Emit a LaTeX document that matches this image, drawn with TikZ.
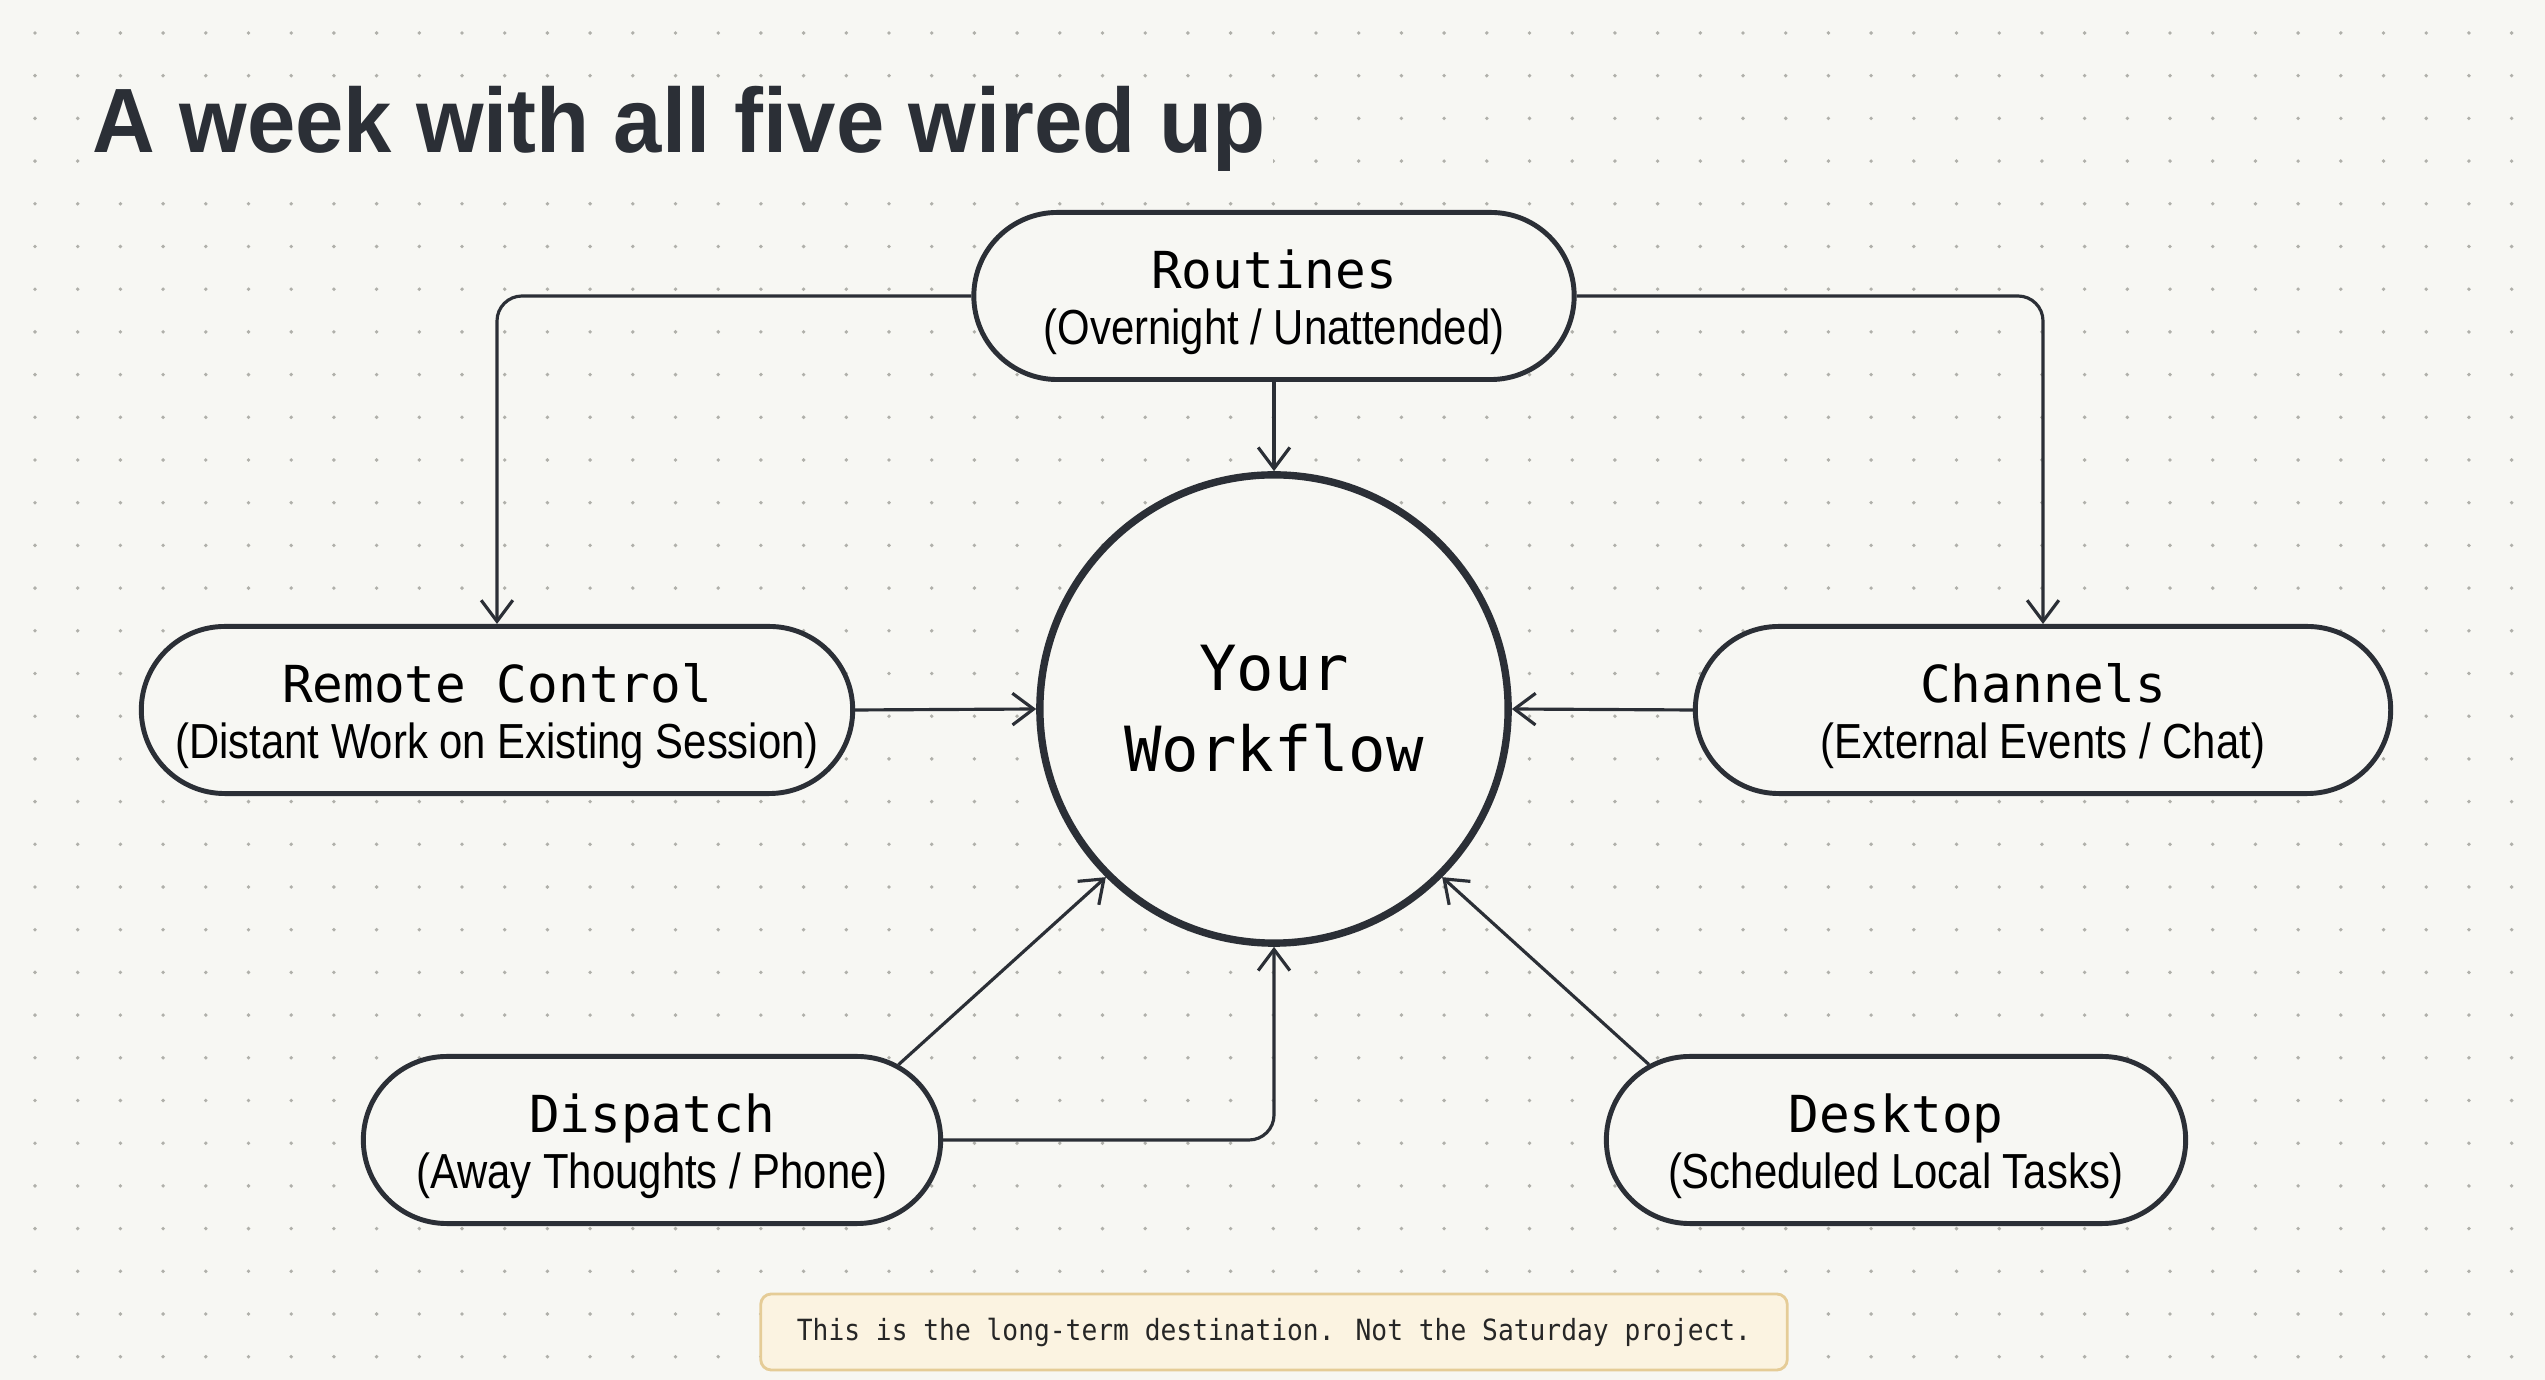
\documentclass[tikz,border=0pt]{standalone}
\usepackage{fontspec}
\setmainfont{Liberation Sans}
\newfontfamily\headfont{DejaVu Sans Mono}
\newfontfamily\subfont[FakeStretch=0.85]{Liberation Sans}
\newfontfamily\titlefont[FakeStretch=0.95]{Liberation Sans}
\newfontfamily\notefont[FakeStretch=0.9]{DejaVu Sans Mono}
\usetikzlibrary{shapes.misc,arrows.meta,positioning}

\definecolor{paper}{HTML}{F7F7F3}
\definecolor{ink}{HTML}{2B2F36}
\definecolor{dotgrey}{HTML}{B0B0AA}
\definecolor{notefill}{HTML}{FBF3E1}
\definecolor{noteedge}{HTML}{E5CC97}

\newcommand{\pillbody}[2]{{\headfont\rule{0pt}{14.5pt}#1}\\{\subfont\fontsize{14}{16}\selectfont #2}}

\tikzset{
  pill/.style={rounded rectangle,draw=ink,line width=1.4pt,fill=paper,text=black,
    align=center,minimum height=1.67cm,inner xsep=0pt,font=\fontsize{14.5}{16}\selectfont},
  arr/.style={-{Straight Barb[length=6pt,width=9pt]},line width=0.9pt,draw=ink}
}

\begin{document}
\begin{tikzpicture}[x=0.01cm,y=-0.01cm]

  \fill[paper] (0,0) rectangle (2545,1380);
  \useasboundingbox (0,0) rectangle (2545,1380);
  \foreach \i in {0,...,58}
    \foreach \j in {0,...,31}
      \fill[dotgrey] (35+42.7*\i,33+42.7*\j) circle (0.55pt);

  \node[anchor=base west,inner sep=2pt,fill=paper,text=ink,
    font=\titlefont\bfseries\fontsize{26}{30}\selectfont] (title) at (85,153) {A week with all five wired up};

  \node[pill,minimum width=6cm] (rout) at (1274,296) {\pillbody{Routines}{(Overnight / Unattended)}};
  \node[pill,minimum width=7.11cm] (remote) at (497,710) {\pillbody{Remote Control}{(Distant Work on Existing Session)}};
  \node[pill,minimum width=6.95cm] (chan) at (2043,710) {\pillbody{Channels}{(External Events / Chat)}};
  \node[pill,minimum width=5.77cm] (disp) at (652,1140) {\pillbody{Dispatch}{(Away Thoughts / Phone)}};
  \node[pill,minimum width=5.79cm] (desk) at (1896,1140) {\pillbody{Desktop}{(Scheduled Local Tasks)}};

  \node[draw=ink,circle,line width=2.1pt,fill=paper,minimum size=4.68cm,inner sep=0pt,
    align=center,font=\headfont\fontsize{17.7}{23}\selectfont] (wf) at (1274,709) {Your\\Workflow};

  \draw[arr,rounded corners=0.25cm] (rout.west) -| (remote.north);
  \draw[arr,rounded corners=0.25cm] (rout.east) -| (chan.north);
  \draw[arr] (rout.south) -- (wf.north);
  \draw[arr] (remote.east) -- (wf.west);
  \draw[arr] (chan.west) -- (wf.east);
  \draw[arr,rounded corners=0.25cm] (disp.east) -| (wf.south);
  \draw[arr] (disp.17) -- (wf.225);
  \draw[arr] (desk.163) -- (wf.315);

  % footnote strip
  \node[draw=noteedge,fill=notefill,line width=0.8pt,rounded corners=3pt,
    minimum width=10.26cm,minimum height=0.76cm,text=black!85,
    font=\notefont\fontsize{8.3}{10}\selectfont] (note) at (1274,1332)
    {This is the long-term destination. Not the Saturday project.};

\end{tikzpicture}
\end{document}
